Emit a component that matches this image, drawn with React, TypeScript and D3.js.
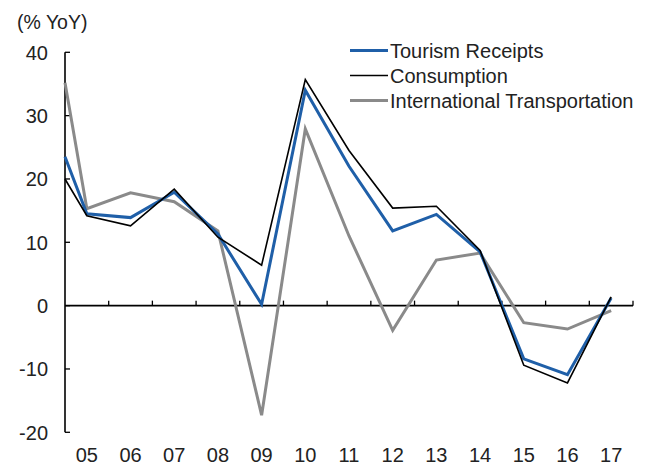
import React from "react";
import * as d3 from "d3";

// x positions: first point sits at the axis (half a band before '05')
const xPositions = [2004.5, 2005, 2006, 2007, 2008, 2009, 2010, 2011, 2012, 2013, 2014, 2015, 2016, 2017];
const xTickLabels = ["05", "06", "07", "08", "09", "10", "11", "12", "13", "14", "15", "16", "17"];
const labelYears = [2005, 2006, 2007, 2008, 2009, 2010, 2011, 2012, 2013, 2014, 2015, 2016, 2017];

const tourismReceipts = [23.5, 14.5, 13.9, 17.9, 11.3, 0.2, 34.0, 22.0, 11.8, 14.4, 8.5, -8.4, -10.9, 1.2];
const consumption = [20.0, 14.2, 12.6, 18.4, 10.8, 6.4, 35.7, 24.5, 15.4, 15.7, 8.7, -9.4, -12.2, 1.4];
const intlTransportation = [35.2, 15.3, 17.8, 16.4, 11.8, -17.3, 27.9, 11.0, -3.9, 7.2, 8.3, -2.7, -3.7, -0.8];

const yTicks = [40, 30, 20, 10, 0, -10, -20];
const seriesNames = ["Tourism Receipts", "Consumption", "International Transportation"];

const W = 650;
const H = 468;
const FONT = "'Liberation Sans', Arial, sans-serif";

export default function App() {
  const x = d3.scaleLinear().domain([2004.5, 2017.5]).range([65, 633]);
  const y = d3.scaleLinear().domain([-20, 40]).range([432.3, 52.3]);

  const line = d3
    .line<number>()
    .x((_, i) => x(xPositions[i]))
    .y((d) => y(d));

  const series = [
    { name: seriesNames[2], values: intlTransportation, color: "#8a8a8a", width: 3 },
    { name: seriesNames[0], values: tourismReceipts, color: "#1f5fa8", width: 3 },
    { name: seriesNames[1], values: consumption, color: "#000000", width: 1.6 },
  ];
  const legendOrder = [series[1], series[2], series[0]];

  const boundaryTicks = labelYears.map((yr) => yr + 0.5);

  return (
    <svg
      width={W}
      height={H}
      style={{ position: "absolute", left: 0, top: 0, background: "#fff" }}
      fontFamily={FONT}
    >
      <text x={17} y={29} fontSize={19.5} fill="#222">(% YoY)</text>

      {/* y axis */}
      <line x1={x(2004.5)} x2={x(2004.5)} y1={y(40)} y2={y(-20)} stroke="#000" strokeWidth={1.6} />
      {yTicks.map((t) => (
        <g key={t}>
          <line x1={x(2004.5)} x2={x(2004.5) + 5} y1={y(t)} y2={y(t)} stroke="#000" strokeWidth={1.3} />
          <text x={48} y={y(t)} dy="0.36em" textAnchor="end" fontSize={20} fill="#222">
            {t}
          </text>
        </g>
      ))}

      {/* x axis at zero */}
      <line x1={x(2004.5)} x2={x(2017.5)} y1={y(0)} y2={y(0)} stroke="#000" strokeWidth={1.6} />
      {boundaryTicks.map((t) => (
        <line key={t} x1={x(t)} x2={x(t)} y1={y(0)} y2={y(0) - 5} stroke="#000" strokeWidth={1.3} />
      ))}
      {labelYears.map((yr, i) => (
        <text key={yr} x={x(yr)} y={455} dy="0.36em" textAnchor="middle" fontSize={20} fill="#222">
          {xTickLabels[i]}
        </text>
      ))}

      {/* lines */}
      {series.map((s) => (
        <path
          key={s.name}
          d={line(s.values) || ""}
          fill="none"
          stroke={s.color}
          strokeWidth={s.width}
          strokeLinejoin="miter"
        />
      ))}

      {/* legend */}
      {legendOrder.map((s, i) => (
        <g key={s.name} transform={`translate(350, ${50.5 + i * 25})`}>
          <line x1={0} x2={38} y1={0} y2={0} stroke={s.color} strokeWidth={s.width} />
          <text x={40} y={0} dy="0.36em" fontSize={20} fill="#222">
            {s.name}
          </text>
        </g>
      ))}
    </svg>
  );
}
